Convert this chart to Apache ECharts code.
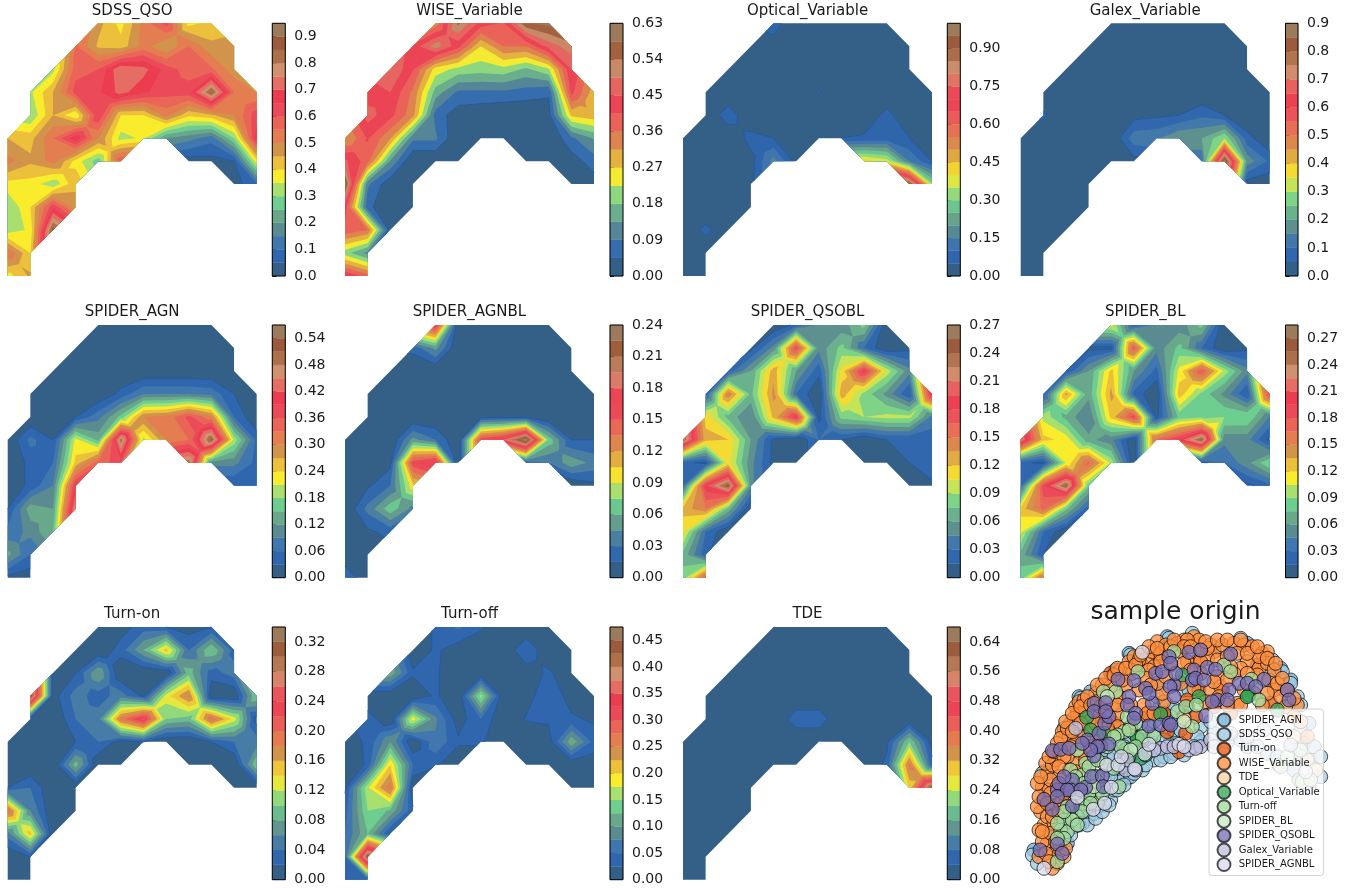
<!DOCTYPE html>
<html><head><meta charset="utf-8">
<style>html,body{margin:0;padding:0;background:#fff}#c{width:1348px;height:891px}</style>
<script src="https://cdn.jsdelivr.net/npm/echarts@6/dist/echarts.min.js"></script>
</head><body><div id="c"></div>
<script>
// which grid columns hold a value in each grid row
const rowColumns=[[4,5,6,7,8,9],[3,4,5,6,7,8,9,10],[2,3,4,5,6,7,8,9,10],[1,2,3,4,5,6,7,8,9,10,11],[1,2,3,4,5,6,7,8,9,10,11],[0,1,2,3,4,5,6,7,8,9,10,11],[0,1,2,3,4,5,8,9,10,11],[0,1,2,3,10,11],[0,1,2,3],[0,1,2],[0,1],[0,1]];

const sdssQso=[[.47,.38,.52,.62,.38,.42],[.56,.44,.42,.52,.45,.55,.46,.47],[.33,.58,.6,.75,.72,.63,.57,.56,.47],[.34,.45,.62,.64,.72,.66,.62,.63,.86,.55,.5],[.3,.45,.35,.65,.4,.4,.52,.41,.44,.5,.63],[.45,.43,.55,.69,.5,.33,.36,.2,.17,.12,.3,.68],[.52,.46,.52,.38,.27,.6,.02,.03,.05,.38],[.38,.38,.31,.44,.02,.1],[.3,.4,.64,.47],[.32,.36,.88],[.55,.4],[.38,.46]];
const wiseVariable=[[.33,.55,.43,.4,.58,.6],[.42,.52,.42,.27,.36,.36,.47,.52],[.5,.41,.25,.21,.2,.21,.17,.22,.45],[.42,.45,.35,.16,.08,.08,.08,.07,.05,.42,.29],[.47,.42,.33,.07,.02,.01,0,0,.03,.28,.3],[.31,.41,.32,.1,.1,0,0,0,0,0,.08,.14],[.46,.38,.13,0,0,0,0,0,.02,.07],[.6,.1,.01,0,0,.02],[.43,.06,.0,0],[.39,.36,.02],[.2,.12],[.45,.38]];
const opticalVariable=[[.08,0,0,0,0,0],[0,.02,0,0,0,0,0,0],[0,0,0,0,0,0,0,0,0],[0,0,0,0,0,.055,0,0,0,0,0],[0,.085,0,0,0,0,0,0,.07,0,0],[0,0,0,.07,.05,0,0,.05,.06,.07,.05,0],[0,0,0,.03,.17,.03,.42,.38,.15,.05],[0,0,.052,.03,.95,.32],[0,0,0,0],[0,.067,0],[0,0],[0,0]];
const galexVariable=[[0,0,0,0,0,0],[0,0,0,0,0,0,0,0],[0,0,0,0,0,0,0,0,0],[0,0,0,0,0,0,0,0,0,0,0],[.06,0,0,0,.03,.04,.05,.09,.05,0,0],[0,0,0,0,0,.13,.14,.2,.2,.3,.07,0],[0,0,0,0,0,.03,.1,.9,.18,.09],[0,0,0,0,.02,.01],[0,0,0,0],[0,0,0],[0,0],[0,0]];
const spiderAgn=[[0,0,0,0,0,0],[0,0,.03,0,0,0,0,0],[0,0,0,0,0,0,0,0,0],[0,0,0,0,.04,.09,.09,.09,.08,.03,0],[0,.02,.03,.08,.16,.3,.31,.37,.31,.06,0],[0,.07,.03,.22,.14,.5,.2,.3,.33,.52,.2,.05],[0,.04,.06,.25,.35,.37,.5,.1,.1,.05],[0,.04,.09,.4,.03,.04],[.03,.14,.12,.47],[.07,.1,.15],[.13,.06],[.02,.01]];
const spiderAgnbl=[[.17,0,0,0,0,0],[.02,.05,0,0,0,0,0,0],[0,0,0,0,0,0,0,0,0],[0,0,0,0,0,0,0,0,0,0,0],[0,0,0,0,0,.01,.01,.01,0,0,0],[0,0,0,.05,.03,0,.16,.18,.24,.07,.015,.015],[0,0,.01,.16,.18,0,.018,.03,.055,.04],[0,.012,.03,.1,0,.01],[0,.035,.07,.04],[0,.012,.02],[0,0],[.03,0]];
const spiderQsobl=[[0,.02,.05,.05,.08,0],[.01,.05,.18,.05,.08,.03,0,.01],[.02,.06,.13,.06,.02,.11,.19,.1,.05],[.02,.15,.07,.14,.03,0,.13,.085,.055,.015,.2],[.115,.07,.045,.125,.19,.01,.08,.09,.095,.095,.04],[.24,.125,.12,.06,.01,0,.03,.015,0,.015,.015,.02],[.02,.01,.11,.05,.01,0,0,0,.015,.03],[.03,.19,.25,.05,0,.01],[.125,.15,.07,0],[.11,.03,0],[.07,.02],[.08,.17]];
const spiderBl=[[.11,.02,.05,.05,.08,0],[.01,.01,.18,.05,.08,.03,0,.01],[.015,.06,.125,.06,.025,.11,.18,.1,.05],[.02,.14,.065,.14,.025,0,.13,.085,.055,.015,.19],[.1,.07,.045,.125,.19,.01,.08,.085,.09,.09,.045],[.23,.125,.115,.065,.05,0,.17,.2,.26,.05,.05,.01],[.02,.01,.105,.17,.1,0,.01,.03,.055,.09],[.03,.19,.26,.08,.01,.025],[.125,.17,.08,.02],[.11,.03,0],[.07,.015],[.08,.17]];
const turnOn=[[0,.01,.03,.02,.01,.02],[0,0,.03,.08,.15,.04,.1,.03],[.01,.02,.08,0,0,0,.09,.03,.05],[.33,.01,.05,.03,.05,.015,.13,.185,0,0,.1],[.01,0,.04,.05,.19,.25,.1,.09,.2,.13,.01],[0,0,0,.02,.04,.01,.02,0,0,.02,.04,.05],[0,0,0,.09,0,0,0,0,0,.1],[.02,.04,0,0,0,0],[.2,.06,0,0],[.05,.15,0],[0,.02],[0,0]];
const turnOff=[[.03,.055,.03,0,0,0],[0,.03,.01,0,0,.05,0,0],[.12,.03,.03,0,0,0,.01,.03,0],[0,0,0,.03,0,.16,0,.01,.05,.01,0],[.04,0,.19,.08,.01,.05,0,.028,.03,.03,.02],[.01,.03,.1,0,.07,.03,.03,0,0,.01,.12,.04],[0,.03,.2,.05,.03,0,0,0,0,.01],[.02,.17,.27,0,0,0],[.04,.15,.12,.03],[.05,.125,.02],[.05,.45],[.03,.04]];
const tde=[[0,0,0,0,0,0],[0,0,0,0,0,0,0,0],[0,0,0,0,0,0,0,0,0],[0,0,0,0,0,0,0,0,0,0,0],[0,0,0,0,.065,.065,0,0,0,0,0],[0,0,0,0,0,0,0,0,0,.03,.2,.02],[0,0,0,0,0,0,0,.05,.38,.05],[0,0,0,0,.29,.64],[0,0,0,0],[0,0,0],[0,0],[0,0]];

const panelNames=['SDSS_QSO','WISE_Variable','Optical_Variable','Galex_Variable','SPIDER_AGN','SPIDER_AGNBL','SPIDER_QSOBL','SPIDER_BL','Turn-on','Turn-off','TDE'];
const panelValues=[sdssQso,wiseVariable,opticalVariable,galexVariable,spiderAgn,spiderAgnbl,spiderQsobl,spiderBl,turnOn,turnOff,tde];
const levelSteps=[.05,.045,.05,.05,.03,.015,.015,.015,.02,.025,.04];
const levelTops=[.95,.63,1,.9,.57,.24,.27,.285,.34,.475,.68];
const tickSteps=[.1,.09,.15,.1,.06,.03,.03,.03,.04,.05,.08];
const tickDecimals=[1,2,2,1,2,2,2,2,2,2,2];

// scatter: x and y, arbitrary units
const sampleNames=['SPIDER_AGN','SDSS_QSO','Turn-on','WISE_Variable','TDE','Optical_Variable','Turn-off','SPIDER_BL','SPIDER_QSOBL','Galex_Variable','SPIDER_AGNBL'];
const sampleColors=['#6baed6','#9ecae1','#e6550d','#fd8d3c','#fdd0a2','#31a354','#a1d99b','#c7e9c0','#756bb1','#bcbddc','#dadaeb'];
const spiderAgnPts=[[340,565],[310,560],[280,540],[330,530],[370,470],[350,450],[420,460],[470,450],[560,455],[600,430],[500,460],[120,740],[300,470],[280,500],[235,630],[180,620],[430,290],[520,350],[450,360],[395,460],[220,600],[255,600],[870,460],[890,510],[810,300],[830,270],[60,780],[160,760],[200,660],[780,240],[345,190],[195,320],[460,140],[90,545],[150,415],[230,305],[305,240],[700,160],[800,235],[885,400]];
const sdssQsoPts=[[55,795],[70,820],[170,700],[210,695],[225,680],[190,680],[240,670],[270,645],[290,630],[300,600],[320,575],[350,560],[385,540],[420,510],[450,500],[480,490],[390,500],[370,510],[340,450],[360,430],[390,430],[420,430],[490,430],[440,345],[460,345],[510,300],[525,300],[430,320],[480,355],[400,470],[465,145],[350,195],[200,325],[185,430],[165,425],[85,550],[775,210],[805,245],[830,280],[850,320],[860,345],[410,400],[560,410],[590,395],[550,440],[860,420],[900,470],[920,500],[860,500],[760,490],[700,470],[650,440],[480,420],[250,650],[205,700],[180,710],[130,780],[170,735],[195,705],[220,705],[245,685],[265,665],[285,645],[310,600],[330,585],[360,550],[395,525],[440,510],[470,500],[510,495],[540,470],[600,470],[640,455],[680,450],[120,740],[140,700],[170,650],[190,640],[220,640],[260,620],[290,560],[310,530],[340,510],[360,490],[420,480],[450,450],[500,420],[470,380],[420,395],[380,400],[330,470],[300,500],[250,560],[200,600],[165,620],[140,610],[920,560],[885,590],[840,540],[790,500],[730,470],[620,175],[680,145],[535,130]];
const turnOnPts=[[550,213],[510,378],[545,380],[515,430],[460,425],[340,498],[495,485],[555,300],[450,370],[520,330],[300,400],[410,370],[255,380],[650,370],[770,340],[600,350],[395,375],[625,300],[430,200],[730,225],[190,370],[290,250]];
const wisePts=[[75,800],[100,760],[120,790],[130,820],[115,835],[85,755],[150,800],[90,705],[80,665],[100,680],[120,640],[85,590],[100,550],[95,520],[115,525],[135,560],[155,640],[145,660],[120,700],[110,730],[140,640],[105,600],[125,510],[145,425],[130,460],[165,440],[200,490],[190,520],[215,510],[170,400],[185,350],[195,335],[205,370],[180,385],[225,395],[245,310],[265,285],[210,330],[230,420],[300,400],[310,375],[295,345],[315,320],[335,285],[320,240],[345,215],[360,200],[355,250],[385,225],[400,205],[415,185],[430,155],[440,190],[420,230],[390,345],[400,370],[310,410],[290,430],[350,410],[420,370],[450,335],[445,310],[430,280],[490,160],[510,150],[540,140],[500,185],[520,215],[555,150],[590,165],[600,185],[580,205],[610,210],[625,165],[660,160],[690,165],[715,170],[745,190],[760,185],[670,190],[700,215],[735,235],[760,220],[640,200],[680,235],[610,260],[590,300],[620,290],[660,250],[690,300],[670,340],[730,255],[765,270],[780,300],[760,310],[800,320],[790,280],[575,335],[540,295],[510,220],[455,165],[520,150],[470,225],[500,280],[560,215],[640,270],[700,250],[735,200],[580,175],[650,230],[780,240],[850,345],[815,350],[840,380],[860,395],[880,440],[325,270],[290,290],[250,285],[375,210],[405,240],[395,265],[440,215],[680,345],[720,310],[745,345],[160,500],[165,540],[110,570],[90,630],[130,590],[310,345],[280,415],[255,455],[210,440],[185,460],[75,720],[70,650],[75,620],[70,580],[80,560],[105,500],[120,485],[140,445],[160,415],[155,395],[175,370],[200,350],[220,320],[230,345],[250,335],[280,320],[275,265],[300,255],[310,235],[335,235],[365,225],[380,195],[405,170],[430,175],[470,170],[480,150],[510,170],[530,170],[560,180],[575,155],[610,150],[640,150],[680,150],[700,190],[730,170],[760,205],[785,220],[805,265],[820,300],[840,325],[615,320],[640,345],[600,275],[560,250],[530,240],[455,260],[410,285],[375,300],[350,345],[260,350],[245,400],[200,400],[170,470],[150,500],[135,530],[110,610],[100,640],[115,680],[85,725],[95,790],[105,815],[140,780],[155,775],[125,755],[210,540],[230,470],[185,545],[150,610],[135,670],[175,425]];
const tdePts=[[510,385],[860,395],[880,510],[840,440],[905,540]];
const opticalPts=[[218,382],[330,490],[385,450],[380,505],[440,372],[505,255],[555,320],[705,315],[790,360],[270,430],[375,450],[345,500],[700,320],[335,478],[370,445],[395,495],[230,420]];
const turnOffPts=[[268,305],[305,305],[372,245],[630,225],[650,245],[712,268],[735,330],[490,365],[515,350],[547,345],[535,410],[340,380],[330,425],[310,435],[215,520],[205,555],[245,605],[205,640],[170,670],[150,690],[140,720],[160,725],[170,540],[190,480],[480,185],[855,570],[130,815],[225,530],[250,575],[185,610],[795,525],[365,400],[150,745],[130,700],[160,650],[195,585],[225,610],[250,640],[185,560],[300,440],[240,560],[210,580],[265,610],[230,640],[205,665],[175,690],[150,665],[190,705],[130,745],[270,520],[300,535],[320,470],[345,420],[385,440],[280,470],[250,510],[420,440],[365,470],[315,590]];
const spiderBlPts=[[800,530],[865,575],[890,570],[860,480],[820,500],[510,395],[280,320],[240,590],[350,480]];
const qsoblPts=[[78,780],[130,762],[145,790],[90,628],[115,658],[130,600],[135,580],[175,570],[170,600],[215,592],[232,560],[265,558],[268,590],[115,482],[140,478],[165,475],[175,648],[220,450],[260,468],[240,498],[285,462],[255,430],[272,400],[285,380],[240,340],[275,338],[240,365],[275,365],[345,320],[340,345],[365,370],[360,385],[415,340],[395,295],[405,310],[360,272],[312,268],[425,250],[445,245],[480,285],[468,290],[480,320],[540,240],[535,270],[545,265],[570,270],[580,232],[605,238],[485,250],[465,200],[470,220],[525,187],[560,180],[650,192],[675,280],[645,300],[610,330],[595,335],[640,330],[700,280],[750,268],[725,290],[820,300],[825,330],[405,408],[440,405],[465,400],[470,405],[575,378],[200,600],[160,600],[130,620],[150,560],[250,470],[230,480],[205,460]];
const galexPts=[[335,540],[440,475],[460,470],[525,480],[560,470],[590,450],[650,430],[700,440],[830,465],[185,415],[750,420],[340,510],[365,540],[420,480],[480,470],[545,475],[600,470]];
const agnblPts=[[385,187],[90,835],[190,622],[238,658],[272,640],[292,592],[278,525],[312,525],[322,500],[362,537],[392,492],[405,463],[495,463],[510,470],[875,545]];
const samplePts=[spiderAgnPts,sdssQsoPts,turnOnPts,wisePts,tdePts,opticalPts,turnOffPts,spiderBlPts,qsoblPts,galexPts,agnblPts];

// colour ramp of the filled contours, low to high
const rampHex=['#345f87','#2f66ad','#4077ae','#5a8b90','#6aa88c','#6dce90','#a8df6e','#f9ec2c','#ecc03a','#d2944a','#e47d50','#ea6458','#eb4a59','#ec3c50','#e56d63','#cf9170','#ae7049','#9a5a3b','#9b7b5c'];
function rgb(h){return [1,3,5].map(i=>parseInt(h.substr(i,2),16));}
function ramp(t){const p=Math.max(0,Math.min(1,t))*(rampHex.length-1),i=Math.min(rampHex.length-2,Math.floor(p)),f=p-i,a=rgb(rampHex[i]),b=rgb(rampHex[i+1]);
  return 'rgb('+a.map((v,c)=>Math.round(v+(b[c]-v)*f)).join(',')+')';}

const cols=[{p:7.7,b:272.3,w:13},{p:345,b:610,w:13},{p:683,b:947.3,w:13},{p:1020.7,b:1285.5,w:12.5}];
const rows=[23.3,325,627];
const plotW=249,plotH=252.7;

function nodeGrid(vals){const g=[];for(let j=0;j<12;j++){g.push(new Array(12).fill(null));rowColumns[j].forEach((c,n)=>g[j][c]=vals[j][n]);}return g;}
function cellPolys(g){const out=[];
  for(let j=0;j<11;j++)for(let i=0;i<11;i++){
    const c=[[i,j],[i+1,j],[i+1,j+1],[i,j+1]].map(q=>({x:q[0],y:q[1],v:g[q[1]][q[0]]}));
    const ok=c.filter(q=>q.v!==null);
    if(ok.length<3)continue;
    if(ok.length===3){out.push(ok);continue;}
    const lo=Math.min(c[0].v,c[2].v),hi=Math.max(c[0].v,c[2].v),lo2=Math.min(c[1].v,c[3].v),hi2=Math.max(c[1].v,c[3].v);
    if(lo>hi2||lo2>hi){const m={x:i+.5,y:j+.5,v:(c[0].v+c[1].v+c[2].v+c[3].v)/4};
      for(let k=0;k<4;k++)out.push([c[k],c[(k+1)%4],m]);}
    else out.push(c);
  }return out;}
function clipAbove(poly,L){const r=[],segs=[];
  for(let k=0;k<poly.length;k++){const a=poly[k],b=poly[(k+1)%poly.length];
    if(a.v>=L)r.push(a);
    if((a.v>=L)!==(b.v>=L)){const f=(L-a.v)/(b.v-a.v);const p={x:a.x+(b.x-a.x)*f,y:a.y+(b.y-a.y)*f,v:L};r.push(p);segs.push(p);}
  }return {r,segs};}

const option={animation:false,backgroundColor:'#fff',title:[],grid:[],xAxis:[],yAxis:[],series:[],
  textStyle:{fontFamily:'DejaVu Sans'}};
panelNames.forEach((name,idx)=>{
  const col=cols[idx%4],top=rows[Math.floor(idx/4)];
  const step=levelSteps[idx],topV=levelTops[idx],n=Math.round(topV/step);
  const levels=[];for(let k=0;k<n;k++)levels.push(k*step);
  const polys=cellPolys(nodeGrid(panelValues[idx]));
  const colorOf=k=>ramp(k/(n-1));
  const g0=option.grid.length;
  option.grid.push({left:col.p,top:top,width:plotW,height:plotH});
  option.xAxis.push({type:'value',gridIndex:g0,min:0,max:11,show:false});
  option.yAxis.push({type:'value',gridIndex:g0,min:0,max:11,inverse:true,show:false});
  option.title.push({text:name,left:col.p+plotW/2,top:top-20,textAlign:'center',padding:0,
    textStyle:{fontFamily:'DejaVu Sans',fontSize:15,fontWeight:'normal',color:'#1a1a1a'}});
  option.series.push({type:'custom',coordinateSystem:'cartesian2d',xAxisIndex:g0,yAxisIndex:g0,silent:true,clip:false,
    data:levels.map((l,k)=>[k,k]),
    renderItem:(params,api)=>{
      const k=params.dataIndex,L=k===0?-1:levels[k];let d='',seg='';
      polys.forEach(pl=>{const {r,segs}=clipAbove(pl,L);
        if(r.length>=3){r.forEach((p,i)=>{const q=api.coord([p.x,p.y]);d+=(i?'L':'M')+q[0].toFixed(2)+' '+q[1].toFixed(2);});d+='Z';}
        if(k===1&&segs.length===2){const a=api.coord([segs[0].x,segs[0].y]),b=api.coord([segs[1].x,segs[1].y]);
          seg+='M'+a[0].toFixed(2)+' '+a[1].toFixed(2)+'L'+b[0].toFixed(2)+' '+b[1].toFixed(2);}
      });
      const kids=[];
      if(d)kids.push({type:'path',shape:{pathData:d},style:{fill:colorOf(k),lineWidth:0}});
      if(seg)kids.push({type:'path',shape:{pathData:seg},style:{fill:null,stroke:'#235a9f',lineWidth:.9}});
      return {type:'group',children:kids};
    }});
  // colour bar
  const g1=option.grid.length;
  const ticks=[];for(let t=0;t*tickSteps[idx]<=topV+1e-9;t++)ticks.push(+(t*tickSteps[idx]).toFixed(4));
  option.grid.push({left:col.b,top:top,width:col.w,height:plotH});
  option.xAxis.push({type:'value',gridIndex:g1,min:0,max:1,show:false});
  option.yAxis.push({type:'value',gridIndex:g1,min:0,max:topV,position:'right',splitLine:{show:false},
    axisLine:{show:false},axisTick:{show:true,length:4,lineStyle:{color:'#000',width:1},customValues:ticks},
    axisLabel:{show:true,margin:9,fontSize:14,padding:[1.5,0,0,0],color:'#1a1a1a',fontFamily:'DejaVu Sans',customValues:ticks,formatter:v=>(+v).toFixed(tickDecimals[idx])}});
  option.series.push({type:'custom',coordinateSystem:'cartesian2d',xAxisIndex:g1,yAxisIndex:g1,silent:true,clip:false,
    data:levels.map((l,k)=>[0,l]),
    renderItem:(params,api)=>{const k=params.dataIndex;const a=api.coord([0,levels[k]+step]),b=api.coord([1,levels[k]]);
      return {type:'rect',shape:{x:a[0],y:a[1],width:b[0]-a[0],height:b[1]-a[1]},style:{fill:colorOf(k),stroke:colorOf(k),lineWidth:.3}};}});
  option.series.push({type:'custom',coordinateSystem:'cartesian2d',xAxisIndex:g1,yAxisIndex:g1,silent:true,clip:false,z:5,
    data:[[0,0]],
    renderItem:(params,api)=>{const a=api.coord([0,topV]),b=api.coord([1,0]);
      return {type:'rect',shape:{x:a[0],y:a[1],width:b[0]-a[0],height:b[1]-a[1]},style:{fill:null,stroke:'#000',lineWidth:1}};}});
});
// sample origin scatter
const gs=option.grid.length;
option.grid.push({left:1014,top:590,width:334,height:300});
option.xAxis.push({type:'value',gridIndex:gs,min:0,max:1002,show:false});
option.yAxis.push({type:'value',gridIndex:gs,min:0,max:900,inverse:true,show:false});
option.title.push({text:'sample origin',left:1175.5,top:600,textAlign:'center',padding:0,
  textStyle:{fontFamily:'DejaVu Sans',fontSize:25,fontWeight:'normal',color:'#1a1a1a'}});
sampleNames.forEach((nm,i)=>{
  option.series.push({type:'scatter',name:nm,xAxisIndex:gs,yAxisIndex:gs,data:samplePts[i],symbolSize:14,silent:true,clip:false,z:3,
    itemStyle:{color:sampleColors[i]+'f0',borderColor:'rgba(0,0,0,.85)',borderWidth:1}});
});
option.legend={data:sampleNames,orient:'vertical',left:1209,top:709,padding:[3.5,4,3.5,7.5],itemWidth:19.5,itemHeight:13,itemGap:-.55,
  backgroundColor:'rgba(255,255,255,.8)',borderColor:'rgba(200,200,200,.8)',borderWidth:1,borderRadius:3,selectedMode:false,icon:'circle',z:10,
  textStyle:{fontFamily:'DejaVu Sans',fontSize:10,color:'#1a1a1a'}};
echarts.init(document.getElementById('c'),null,{renderer:'canvas'}).setOption(option);
</script></body></html>
